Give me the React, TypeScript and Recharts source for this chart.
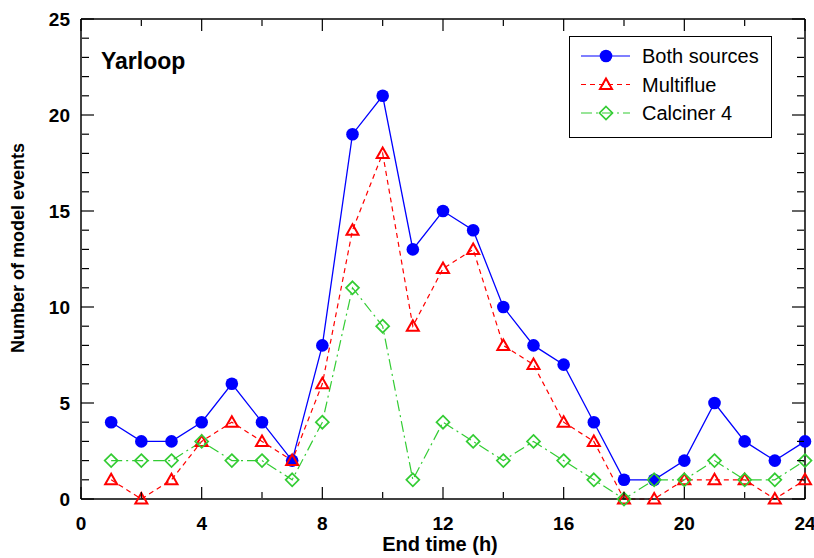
import React from "react"
import { LineChart, Line, XAxis, YAxis } from "recharts"

const hours = [1, 2, 3, 4, 5, 6, 7, 8, 9, 10, 11, 12, 13, 14, 15, 16, 17, 18, 19, 20, 21, 22, 23, 24]
const bothSources = [4, 3, 3, 4, 6, 4, 2, 8, 19, 21, 13, 15, 14, 10, 8, 7, 4, 1, 1, 2, 5, 3, 2, 3]
const multiflue = [1, 0, 1, 3, 4, 3, 2, 6, 14, 18, 9, 12, 13, 8, 7, 4, 3, 0, 0, 1, 1, 1, 0, 1]
const calciner4 = [2, 2, 2, 3, 2, 2, 1, 4, 11, 9, 1, 4, 3, 2, 3, 2, 1, 0, 1, 1, 2, 1, 1, 2]

const xMajorTicks = [0, 4, 8, 12, 16, 20, 24]
const xMinorTicks = [2, 6, 10, 14, 18, 22]
const yMajorTicks = [0, 5, 10, 15, 20, 25]
const yMinorTicks = [1, 2, 3, 4, 6, 7, 8, 9, 11, 12, 13, 14, 16, 17, 18, 19, 21, 22, 23, 24]

const data = hours.map((h, i) => ({
  hour: h,
  both: bothSources[i],
  multiflue: multiflue[i],
  calciner: calciner4[i],
}))

const FONT = "Arial, 'Liberation Sans', Helvetica, sans-serif"
const BLUE = "#0000ff"
const RED = "#ff0000"
const GREEN = "#33cc33"
const X_DOMAIN: [number, number] = [0, 24]
const Y_DOMAIN: [number, number] = [0, 25]

function BottomLabel({ x, y, payload }: any) {
  return (
    <text x={x} y={y + 31} textAnchor="middle" fontFamily={FONT} fontWeight="bold" fontSize={19} fill="#000">
      {payload.value}
    </text>
  )
}

function LeftLabel({ x, y, payload }: any) {
  return (
    <text x={x - 11} y={y + 7} textAnchor="end" fontFamily={FONT} fontWeight="bold" fontSize={19} fill="#000">
      {payload.value}
    </text>
  )
}

// inward tick mark drawn at the axis position handed over by recharts
const inTick = (dx: number, dy: number) => (p: any) => (
  <line x1={p.x} y1={p.y} x2={p.x + dx} y2={p.y + dy} stroke="#000" strokeWidth={1.2} />
)

function Triangle({ cx, cy }: any) {
  if (cx == null || cy == null) return null
  const pts = `${cx},${cy - 6} ${cx - 6},${cy + 4.5} ${cx + 6},${cy + 4.5}`
  return <polygon points={pts} fill="none" stroke={RED} strokeWidth={2} />
}

function Diamond({ cx, cy }: any) {
  if (cx == null || cy == null) return null
  const r = 6.5
  const pts = `${cx},${cy - r} ${cx + r},${cy} ${cx},${cy + r} ${cx - r},${cy}`
  return <polygon points={pts} fill="none" stroke={GREEN} strokeWidth={1.7} />
}

function Circle({ cx, cy }: any) {
  if (cx == null || cy == null) return null
  return <circle cx={cx} cy={cy} r={6.3} fill={BLUE} stroke="none" />
}

const legendRows = [
  { label: "Both sources", color: BLUE, dash: undefined, marker: "circle" },
  { label: "Multiflue", color: RED, dash: "5 4", marker: "triangle" },
  { label: "Calciner 4", color: GREEN, dash: "11 4 2 4", marker: "diamond" },
]

function LegendBox() {
  return (
    <svg width={203} height={102} style={{ position: "absolute", left: 569, top: 36 }}>
      <rect x={0.5} y={0.5} width={202} height={101} fill="#fff" stroke="#000" strokeWidth={1} />
      {legendRows.map((row, i) => {
        const cy = 20 + i * 28.5
        return (
          <g key={row.label}>
            <line x1={12} y1={cy} x2={61} y2={cy} stroke={row.color} strokeWidth={1.2} strokeDasharray={row.dash} />
            {row.marker === "circle" && <Circle cx={37} cy={cy} />}
            {row.marker === "triangle" && <Triangle cx={37} cy={cy} />}
            {row.marker === "diamond" && <Diamond cx={37} cy={cy} />}
            <text x={73} y={cy + 7} fontFamily={FONT} fontSize={20} fill="#000">
              {row.label}
            </text>
          </g>
        )
      })}
    </svg>
  )
}

const frame = { stroke: "#000", strokeWidth: 1.5 }
// shared props of the mirrored tick-mark axes (they take no room in the layout)
const tickAxis = { type: "number" as const, interval: 0, mirror: true, tickSize: 0, tickMargin: 0, tickLine: false }

export default function App() {
  return (
    <div style={{ position: "absolute", left: 0, top: 0, width: 814, height: 558, background: "#fff" }}>
      <LineChart width={814} height={558} data={data} margin={{ top: 19, right: 9, left: 21, bottom: 19 }}>
        <XAxis
          xAxisId="x"
          dataKey="hour"
          type="number"
          domain={X_DOMAIN}
          ticks={xMajorTicks}
          interval={0}
          tickSize={0}
          tickMargin={0}
          tickLine={false}
          tick={<BottomLabel />}
          height={40}
          axisLine={frame}
        />
        <YAxis
          yAxisId="y"
          dataKey="both"
          type="number"
          domain={Y_DOMAIN}
          ticks={yMajorTicks}
          interval={0}
          tickSize={0}
          tickMargin={0}
          tickLine={false}
          tick={<LeftLabel />}
          width={60}
          axisLine={frame}
        />
        <XAxis {...tickAxis} xAxisId="bMaj" dataKey="hour" domain={X_DOMAIN} ticks={xMajorTicks} height={1} tick={inTick(0, -12)} axisLine={false} />
        <XAxis {...tickAxis} xAxisId="bMin" dataKey="hour" domain={X_DOMAIN} ticks={xMinorTicks} height={1} tick={inTick(0, -6)} axisLine={false} />
        <XAxis {...tickAxis} xAxisId="tMaj" orientation="top" dataKey="hour" domain={X_DOMAIN} ticks={xMajorTicks} height={1} tick={inTick(0, 12)} axisLine={frame} />
        <XAxis {...tickAxis} xAxisId="tMin" orientation="top" dataKey="hour" domain={X_DOMAIN} ticks={xMinorTicks} height={1} tick={inTick(0, 6)} axisLine={false} />
        <YAxis {...tickAxis} yAxisId="lMaj" dataKey="both" domain={Y_DOMAIN} ticks={yMajorTicks} width={1} tick={inTick(13, 0)} axisLine={false} />
        <YAxis {...tickAxis} yAxisId="lMin" dataKey="both" domain={Y_DOMAIN} ticks={yMinorTicks} width={1} tick={inTick(7, 0)} axisLine={false} />
        <YAxis {...tickAxis} yAxisId="rMaj" orientation="right" dataKey="both" domain={Y_DOMAIN} ticks={yMajorTicks} width={1} tick={inTick(-13, 0)} axisLine={frame} />
        <YAxis {...tickAxis} yAxisId="rMin" orientation="right" dataKey="both" domain={Y_DOMAIN} ticks={yMinorTicks} width={1} tick={inTick(-7, 0)} axisLine={false} />
        <Line
          xAxisId="x"
          yAxisId="y"
          dataKey="both"
          name="Both sources"
          stroke={BLUE}
          strokeWidth={1.3}
          dot={<Circle />}
          activeDot={false}
          isAnimationActive={false}
        />
        <Line
          xAxisId="x"
          yAxisId="y"
          dataKey="multiflue"
          name="Multiflue"
          stroke={RED}
          strokeWidth={1.2}
          strokeDasharray="5 4"
          dot={<Triangle />}
          activeDot={false}
          isAnimationActive={false}
        />
        <Line
          xAxisId="x"
          yAxisId="y"
          dataKey="calciner"
          name="Calciner 4"
          stroke={GREEN}
          strokeWidth={1.2}
          strokeDasharray="11 4 2 4"
          dot={<Diamond />}
          activeDot={false}
          isAnimationActive={false}
        />
        <text x={101} y={69} fontFamily={FONT} fontWeight="bold" fontSize={23} fill="#000">
          Yarloop
        </text>
        <text x={440} y={551} textAnchor="middle" fontFamily={FONT} fontWeight="bold" fontSize={20} fill="#000">
          End time (h)
        </text>
        <text
          x={24}
          y={248}
          textAnchor="middle"
          transform="rotate(-90 24 248)"
          fontFamily={FONT}
          fontWeight="bold"
          fontSize={18}
          fill="#000"
        >
          Number of model events
        </text>
      </LineChart>
      <LegendBox />
    </div>
  )
}
